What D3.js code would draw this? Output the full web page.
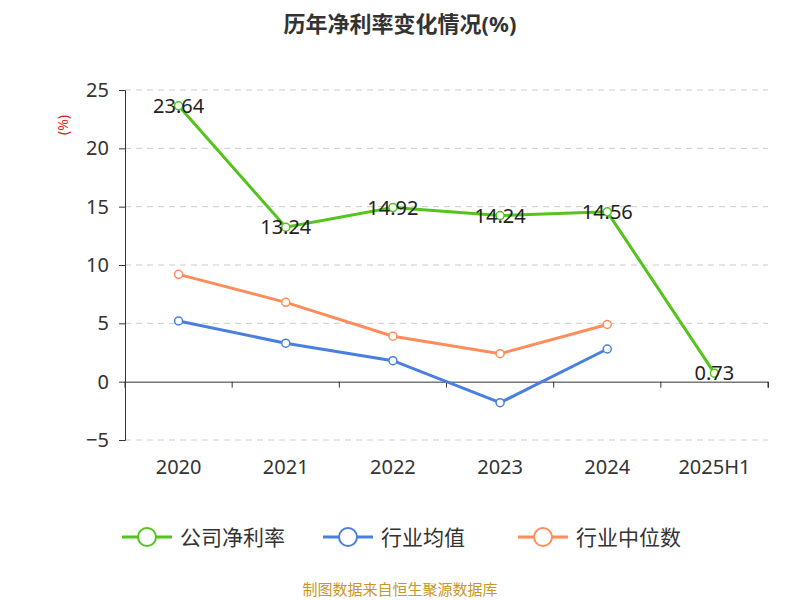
<!DOCTYPE html>
<html><head><meta charset="utf-8">
<script src="https://cdn.jsdelivr.net/npm/d3@7"></script>
<style>body{margin:0;background:#fff}text{font-family:"Noto Sans","Noto Sans CJK SC",sans-serif}</style>
</head><body>
<svg id="c" width="800" height="600"></svg>
<script>
const years = ['2020', '2021', '2022', '2023', '2024', '2025H1'];
const company = [23.64, 13.24, 14.92, 14.24, 14.56, 0.73];
const industryAvg = [5.2, 3.3, 1.8, -1.8, 2.8];
const industryMedian = [9.2, 6.8, 3.9, 2.4, 4.9];
const yTicks = [-5, 0, 5, 10, 15, 20, 25];

const svg = d3.select('#c');
const plotLeft = 125, plotRight = 768, plotTop = 90, plotBottom = 440;

const x = d3.scaleBand().domain(years).range([plotLeft, plotRight]);
const y = d3.scaleLinear().domain([-5, 25]).range([plotBottom, plotTop]);
const cx = d => x(d) + x.bandwidth() / 2;

svg.append('text').attr('x', 400).attr('y', 32).attr('text-anchor', 'middle')
  .attr('font-size', 22).attr('font-weight', 'bold').attr('fill', '#333')
  .text('历年净利率变化情况(%)');

svg.append('text').attr('transform', 'translate(68,125) rotate(-90)')
  .attr('text-anchor', 'middle').attr('font-size', 14).attr('fill', '#e02020').text('(%)');

// grid
svg.append('g').selectAll('line').data(yTicks.filter(d => d !== 0)).join('line')
  .attr('x1', plotLeft).attr('x2', plotRight).attr('y1', d => y(d)).attr('y2', d => y(d))
  .attr('stroke', '#ccc').attr('stroke-dasharray', '6,5');

const ya = svg.append('g').attr('transform', `translate(${plotLeft},0)`)
  .call(d3.axisLeft(y).tickValues(yTicks).tickSize(6).tickPadding(10));
ya.selectAll('text').attr('font-size', 20).attr('fill', '#333');
ya.selectAll('line,path').attr('stroke', '#333');

const xa = svg.append('g').attr('transform', `translate(0,${y(0)})`)
  .call(d3.axisBottom(x).tickSize(6).tickFormat(''));
xa.selectAll('.tick').remove();
xa.select('path').attr('stroke', '#333');
xa.selectAll('.bt').data(d3.range(years.length + 1)).join('line')
  .attr('x1', i => plotLeft + i * x.bandwidth()).attr('x2', i => plotLeft + i * x.bandwidth())
  .attr('y1', 0).attr('y2', 6).attr('stroke', '#333');

svg.append('g').selectAll('text').data(years).join('text')
  .attr('x', d => cx(d)).attr('y', 474).attr('text-anchor', 'middle')
  .attr('font-size', 20).attr('fill', '#333').text(d => d);

const series = [
  { name: '公司净利率', vals: company, color: '#52c41a' },
  { name: '行业均值', vals: industryAvg, color: '#4a7fe0' },
  { name: '行业中位数', vals: industryMedian, color: '#ff8c5a' }
];
const line = d3.line().x((d, i) => cx(years[i])).y(d => y(d));

series.slice().reverse().forEach(s => {
  svg.append('path').attr('d', line(s.vals)).attr('fill', 'none')
    .attr('stroke', s.color).attr('stroke-width', 3);
  svg.append('g').selectAll('circle').data(s.vals).join('circle')
    .attr('cx', (d, i) => cx(years[i])).attr('cy', d => y(d)).attr('r', 4)
    .attr('fill', '#fff').attr('stroke', s.color).attr('stroke-width', 1.5);
});

svg.append('g').selectAll('text').data(company).join('text')
  .attr('x', (d, i) => cx(years[i])).attr('y', d => y(d) + 7)
  .attr('text-anchor', 'middle').attr('font-size', 20).attr('fill', '#222')
  .text(d => d.toFixed(2));

// legend
const lx = [122, 323, 518];
series.forEach((s, i) => {
  const g = svg.append('g').attr('transform', `translate(${lx[i]},537)`);
  g.append('line').attr('x1', 0).attr('x2', 50).attr('stroke', s.color).attr('stroke-width', 3);
  g.append('circle').attr('cx', 25).attr('r', 9).attr('fill', '#fff').attr('stroke', s.color).attr('stroke-width', 2);
  g.append('text').attr('x', 58).attr('y', 8).attr('font-size', 21).attr('fill', '#333').text(s.name);
});

svg.append('text').attr('x', 400).attr('y', 595).attr('text-anchor', 'middle')
  .attr('font-size', 15).attr('fill', '#c8962a').text('制图数据来自恒生聚源数据库');
</script>
</body></html>
